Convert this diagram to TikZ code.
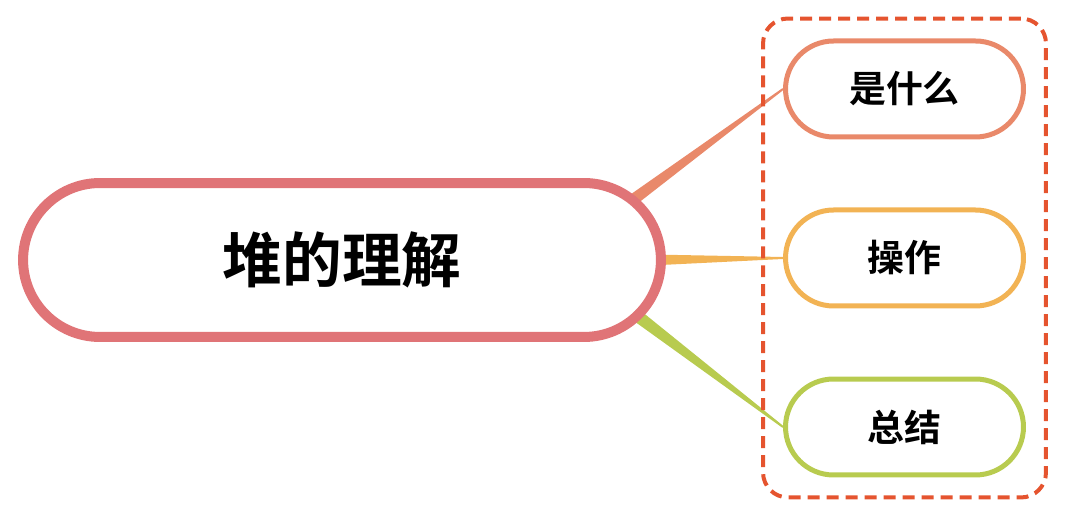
\documentclass[tikz,border=0pt]{standalone}
\usepackage{fontspec}
\newfontfamily\cjk{Noto Sans CJK SC}[BoldFont={Noto Sans CJK SC Bold}]
\usetikzlibrary{calc,shapes.misc,fit,backgrounds}

\definecolor{rojomain}{HTML}{E07477}
\definecolor{naranja}{HTML}{E9896A}
\definecolor{amarillo}{HTML}{F2B354}
\definecolor{verde}{HTML}{B8CB4F}
\definecolor{caja}{HTML}{E5542F}

\tikzset{
  raiz/.style={rounded rectangle, draw=rojomain, line width=0.2cm, fill=white,
    minimum width=12.76cm, minimum height=3.08cm, inner sep=0pt,
    font=\cjk\bfseries\fontsize{34}{40}\selectfont},
  rama/.style={rounded rectangle, draw=#1, line width=0.1cm, fill=white,
    minimum width=4.76cm, minimum height=1.92cm, inner sep=0pt,
    font=\cjk\bfseries\fontsize{21}{25}\selectfont},
  grupo/.style={draw=caja, line width=0.08cm, rounded corners=0.5cm,
    dash pattern=on 0.24cm off 0.14cm, inner sep=0.4cm}
}

\begin{document}
\begin{tikzpicture}[x=0.02cm,y=0.02cm]
\useasboundingbox (0,0) rectangle (1074,526);

%%%%%%%%%%%%%%%%%%%%%%%%%%%%%%%%	NODOS
\node[raiz] (main) at (342,266) {堆的理解};
\node[rama=naranja]  (que) at (904.5,437) {是什么};
\node[rama=amarillo] (ops) at (904.5,268) {操作};
\node[rama=verde]    (fin) at (904.5,99)  {总结};

%%%%%%%%%%%%%%%%%%%%%%%%%%%%%%%%	CAJA PUNTEADA
\node[grupo, fit=(que) (ops) (fin)] (marco) {};

%%%%%%%%%%%%%%%%%%%%%%%%%%%%%%%%	RAMAS (gruesas a delgadas)
\coordinate (s1) at ($(main.east)+(-40,55)$);
\coordinate (s2) at ($(main.east)+(-15,0)$);
\coordinate (s3) at ($(main.east)+(-39,-48)$);

\begin{pgfonlayer}{background}
\fill[naranja] ($(s1)!0.12cm!90:(que.west)$) -- ($(que.west)!0.02cm!-90:(s1)$)
  -- ($(que.west)!0.02cm!90:(s1)$) -- ($(s1)!0.12cm!-90:(que.west)$) -- cycle;
\fill[amarillo] ($(s2)!0.11cm!90:(ops.west)$) -- ($(ops.west)!0.02cm!-90:(s2)$)
  -- ($(ops.west)!0.02cm!90:(s2)$) -- ($(s2)!0.11cm!-90:(ops.west)$) -- cycle;
\fill[verde] ($(s3)!0.13cm!90:(fin.west)$) -- ($(fin.west)!0.02cm!-90:(s3)$)
  -- ($(fin.west)!0.02cm!90:(s3)$) -- ($(s3)!0.13cm!-90:(fin.west)$) -- cycle;
\end{pgfonlayer}

\end{tikzpicture}
\end{document}
